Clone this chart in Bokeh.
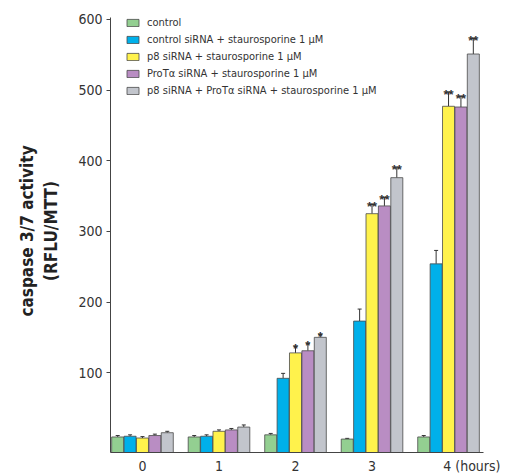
from bokeh.plotting import figure
from bokeh.models import ColumnDataSource, Whisker, TeeHead, Legend, LegendItem, FixedTicker
from bokeh.core.properties import value
from bokeh.embed import file_html
from bokeh.resources import INLINE

# ---- data ----
times = [0, 1, 2, 3, 4]
time_labels = ["0", "1", "2", "3", "4 (hours)"]
series_names = [
    "control",
    "control siRNA + staurosporine 1 \u03bcM",
    "p8 siRNA + staurosporine 1 \u03bcM",
    "ProT\u03b1 siRNA + staurosporine 1 \u03bcM",
    "p8 siRNA + ProT\u03b1 siRNA + staurosporine 1 \u03bcM",
]
control = [9, 9, 12, 6, 9]
control_err = [2, 2, 2, 1, 2]
ctrl_sirna = [10, 10, 92, 173, 254]
ctrl_sirna_err = [2, 2, 7, 17, 19]
p8_sirna = [7.5, 17, 128, 325, 477]
p8_sirna_err = [2, 2, 9, 13, 20]
prot_sirna = [11, 19, 131, 336, 476]
prot_sirna_err = [2, 2, 10, 12, 15]
both_sirna = [15, 23, 150, 376, 551]
both_sirna_err = [2, 3, 4, 14, 22]
control_sig = ["", "", "", "", ""]
ctrl_sirna_sig = ["", "", "", "", ""]
p8_sirna_sig = ["", "", "*", "**", "**"]
prot_sirna_sig = ["", "", "*", "**", "**"]
both_sirna_sig = ["", "", "*", "**", "**"]
y_ticks = [100, 200, 300, 400, 500, 600]

values_list = [control, ctrl_sirna, p8_sirna, prot_sirna, both_sirna]
errs_list = [control_err, ctrl_sirna_err, p8_sirna_err, prot_sirna_err, both_sirna_err]
sigs_list = [control_sig, ctrl_sirna_sig, p8_sirna_sig, prot_sirna_sig, both_sirna_sig]
colors = ["#93cf91", "#00b0ea", "#fff24c", "#b98dc3", "#c2c5cc"]

FONT = "DejaVu Sans Condensed, Liberation Sans"
Y0 = -13
Y_TOP = 614
W = 0.162

p = figure(width=500, height=476, x_range=(-0.418, 4.457), y_range=(Y0, Y_TOP),
           output_backend="svg", toolbar_location=None,
           min_border_left=110, min_border_top=9, min_border_right=17, min_border_bottom=10)
p.outline_line_color = None
p.grid.visible = False

items = []
for i, (name, vals, errs, sigs, col) in enumerate(zip(series_names, values_list, errs_list, sigs_list, colors)):
    xs = [t + (i - 2) * W for t in times]
    src = ColumnDataSource(dict(x=xs, v=vals, upper=[v + e for v, e in zip(vals, errs)], sig=sigs))
    r = p.vbar(x="x", top="v", bottom=Y0, width=W * 0.97, source=src,
               fill_color=col, line_color="#4a4a4a", line_width=0.8)
    wh = Whisker(base="x", lower="v", upper="upper", source=src, dimension="height",
                 line_color="#333333", line_width=1,
                 lower_head=None, upper_head=TeeHead(size=4, line_color="#333333", line_width=1))
    p.add_layout(wh)
    p.text(x="x", y="upper", text="sig", source=src, text_align="center",
           text_baseline="alphabetic", y_offset=2, text_font=value("Liberation Sans"),
           text_font_style="bold", text_font_size="13px", text_color="#333333")
    items.append(LegendItem(label=name, renderers=[r]))

legend = Legend(items=items, location=(15, 355), padding=0, margin=0,
                border_line_alpha=0, background_fill_alpha=0,
                glyph_width=15, glyph_height=9, label_height=13, spacing=4,
                label_standoff=7, label_text_font=FONT, label_text_font_size="11px",
                label_text_color="#333333")
p.add_layout(legend, "center")

# axes
pad = "\u00a0" * 12  # keeps the "4" of the last label centred under its group
overrides = {t: lab for t, lab in zip(times, time_labels)}
overrides[times[-1]] = pad + time_labels[-1]
p.xaxis.ticker = FixedTicker(ticks=times)
p.xaxis.major_label_overrides = overrides
p.xaxis.major_tick_line_color = None
p.xaxis.minor_tick_line_color = None
p.xaxis.major_tick_out = 0
p.xaxis.major_label_standoff = 5
p.xaxis.major_label_text_font = FONT
p.xaxis.major_label_text_font_size = "14px"
p.xaxis.major_label_text_color = "#333333"
p.xaxis.axis_line_color = "#444444"

p.yaxis.ticker = FixedTicker(ticks=y_ticks)
p.yaxis.bounds = (Y0, y_ticks[-1] + 3)
p.yaxis.minor_tick_line_color = None
p.yaxis.major_tick_in = 0
p.yaxis.major_tick_out = 4
p.yaxis.major_tick_line_color = "#444444"
p.yaxis.axis_line_color = "#444444"
p.yaxis.major_label_standoff = 4
p.yaxis.major_label_text_font = FONT
p.yaxis.major_label_text_font_size = "14px"
p.yaxis.major_label_text_color = "#333333"
p.yaxis.axis_label = "caspase 3/7 activity\n(RFLU/MTT)"
p.yaxis.axis_label_text_font = FONT
p.yaxis.axis_label_text_font_style = "bold"
p.yaxis.axis_label_text_font_size = "17px"
p.yaxis.axis_label_text_color = "#222222"
p.yaxis.axis_label_standoff = 14

open("out.html", "w").write(file_html(p, INLINE))
